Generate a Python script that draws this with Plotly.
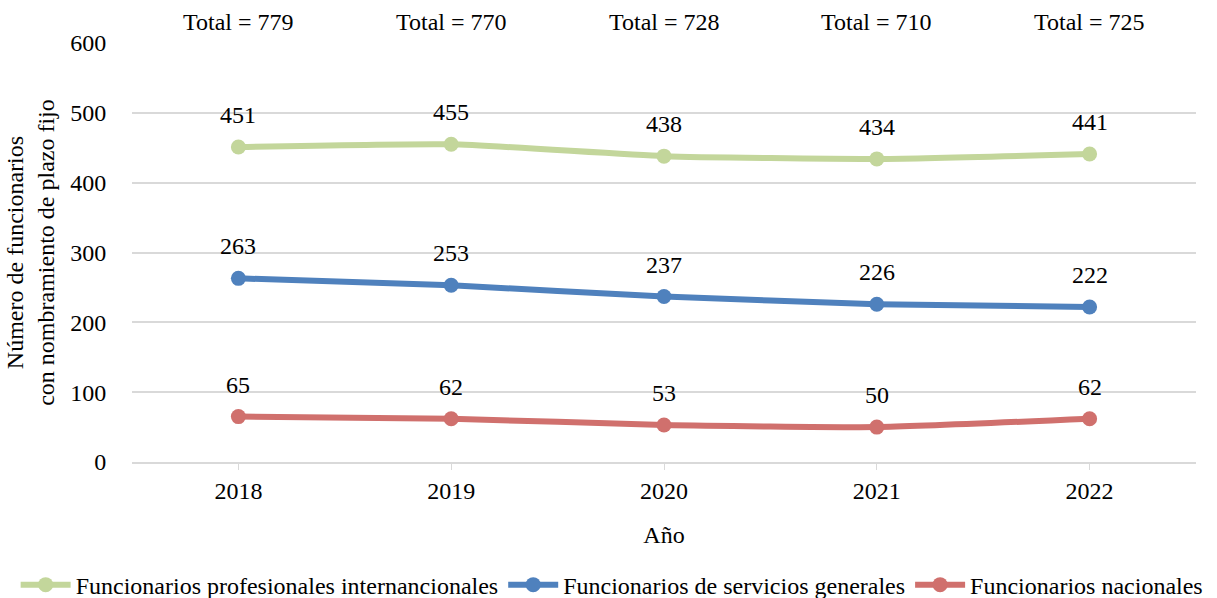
import plotly.graph_objects as go

years = ["2018", "2019", "2020", "2021", "2022"]
profesionales = [451, 455, 438, 434, 441]
servicios = [263, 253, 237, 226, 222]
nacionales = [65, 62, 53, 50, 62]
totales = [779, 770, 728, 710, 725]

series = [
    ("Funcionarios profesionales internancionales", profesionales, "#c3d69b"),
    ("Funcionarios de servicios generales", servicios, "#4f81bd"),
    ("Funcionarios nacionales", nacionales, "#d0706d"),
]

FONT = "Liberation Serif"
FS = 24
W, H = 1217, 598
fig = go.Figure()
for name, vals, col in series:
    fig.add_trace(go.Scatter(
        x=years, y=vals, name=name, mode="lines+markers",
        line=dict(color=col, width=6, shape="spline", smoothing=0.5),
        marker=dict(color=col, size=15),
    ))

for name, vals, col in series:
    for i, v in enumerate(vals):
        fig.add_annotation(x=i, y=v, xref="x", yref="y", text=str(v),
                           showarrow=False, yshift=32,
                           font=dict(family=FONT, size=FS, color="black"))
for i, t in enumerate(totales):
    fig.add_annotation(x=i, y=1, xref="x", yref="paper", text=f"Total = {t}",
                       showarrow=False, yshift=21, yanchor="middle",
                       font=dict(family=FONT, size=FS, color="black"))

fig.update_layout(
    width=W, height=H,
    margin=dict(l=0, r=0, t=43, b=136, autoexpand=False),
    plot_bgcolor="white", paper_bgcolor="white",
    font=dict(family=FONT, size=FS, color="black"),
    showlegend=True,
    legend=dict(orientation="h", x=0.503, xanchor="center",
                y=-0.24, yanchor="top",
                font=dict(family=FONT, size=FS, color="black"),
                itemwidth=50, tracegroupgap=0),
    xaxis=dict(
        type="category", range=[-0.5, 4.5], domain=[132 / W, 1196 / W],
        showgrid=False, showline=True, linecolor="#d9d9d9", linewidth=2,
        ticks="outside", ticklen=6, tickcolor="#d9d9d9", tickwidth=1,
        tickfont=dict(family=FONT, size=FS, color="black"),
        title=dict(text="Año", font=dict(family=FONT, size=FS, color="black"), standoff=23),
    ),
    yaxis=dict(
        range=[0, 600], tickvals=[0, 100, 200, 300, 400, 500, 600],
        showgrid=True, gridcolor="#d9d9d9", gridwidth=2,
        showline=False, zeroline=False, ticks="outside", ticklen=20, tickcolor="rgba(0,0,0,0)",
        tickfont=dict(family=FONT, size=FS, color="black"),
        title=dict(text="Número de funcionarios<br>con nombramiento de plazo fijo",
                   font=dict(family=FONT, size=FS, color="black"), standoff=8),
    ),
)
fig.add_shape(type="line", xref="x", yref="y", x0=4.5, x1=4.5, y0=0, y1=-9,
              line=dict(color="#d9d9d9", width=2))
fig.write_html("out.html", config={"displayModeBar": False},
               post_script="document.body.style.margin='0';")
